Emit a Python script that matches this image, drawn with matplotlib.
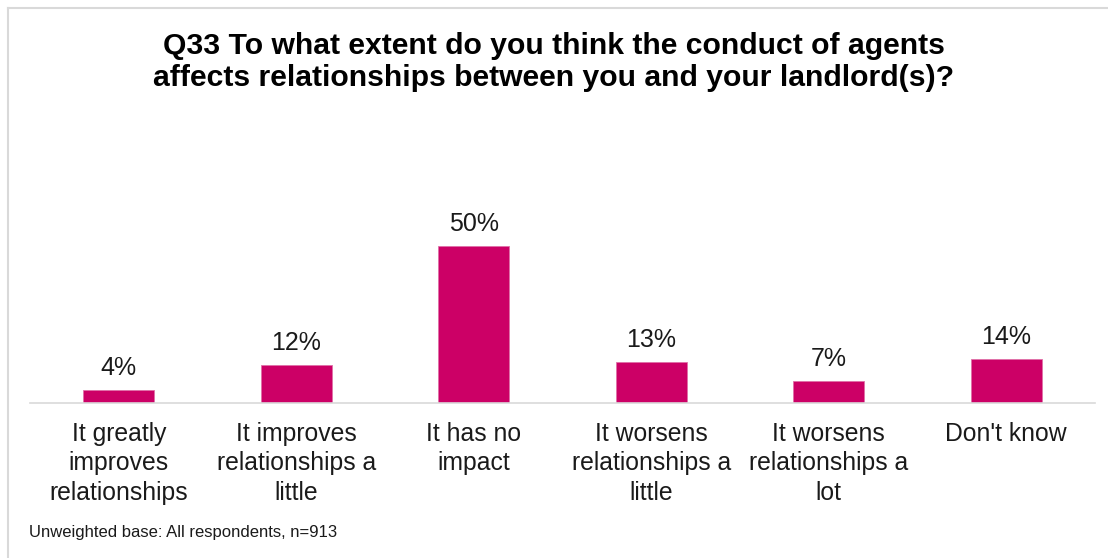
import matplotlib.pyplot as plt
from matplotlib.lines import Line2D

plt.rcParams['font.family'] = ['Liberation Sans', 'DejaVu Sans']

categories = ['It greatly\nimproves\nrelationships',
              'It improves\nrelationships a\nlittle',
              'It has no\nimpact',
              'It worsens\nrelationships a\nlittle',
              'It worsens\nrelationships a\nlot',
              "Don't know"]
values = [4, 12, 50, 13, 7, 14]

bar_colour = '#cc0066'

fig = plt.figure(figsize=(11.08, 5.58), dpi=100)
ax = fig.add_axes([30 / 1108, (558 - 403) / 558, 1065 / 1108, 188.4 / 558])

x = range(len(values))
bars = ax.bar(x, values, width=0.4, color=bar_colour, edgecolor='#e070a8', linewidth=0.6)
for b, v in zip(bars, values):
    ax.annotate(f'{v}%', (b.get_x() + b.get_width() / 2, v), xytext=(0, 16),
                textcoords='offset points', ha='center', va='center',
                fontsize=18, color='#1a1a1a')

ax.set_xlim(-0.5, len(values) - 0.5)
ax.set_ylim(0, 60)
ax.set_yticks([])
ax.set_xticks(list(x))
ax.set_xticklabels(categories, fontsize=17.8, color='#1a1a1a', linespacing=1.3)
ax.tick_params(axis='x', length=0, pad=13.5)
for side in ['top', 'right', 'left']:
    ax.spines[side].set_visible(False)
ax.spines['bottom'].set_color('#d9d9d9')
ax.spines['bottom'].set_linewidth(1.2)

fig.text(0.5, 1 - 62 / 558,
         'Q33 To what extent do you think the conduct of agents\naffects relationships between you and your landlord(s)?',
         ha='center', va='center', fontsize=21.7, fontweight='bold',
         color='black', linespacing=1.22)
fig.text(29 / 1108, 1 - 533 / 558, 'Unweighted base: All respondents, n=913',
         ha='left', va='center', fontsize=12, color='#1a1a1a')

# thin frame on the top and left edges
fig.add_artist(Line2D([8 / 1108, 1], [1 - 8 / 558, 1 - 8 / 558], color='#d9d9d9', lw=1.5))
fig.add_artist(Line2D([8 / 1108, 8 / 1108], [0, 1 - 8 / 558], color='#d9d9d9', lw=1.5))

fig.savefig('out.png', dpi=100)
